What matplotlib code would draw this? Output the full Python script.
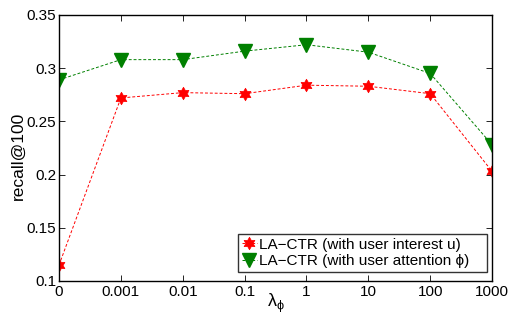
import numpy as np
import matplotlib.pyplot as plt
from matplotlib.path import Path

plt.rcParams['font.family'] = ['Liberation Sans', 'DejaVu Sans']
plt.rcParams['mathtext.fontset'] = 'custom'
plt.rcParams['mathtext.rm'] = 'Liberation Sans'

# data
lambda_labels = ['0', '0.001', '0.01', '0.1', '1', '10', '100', '1000']
recall_interest = [0.115, 0.272, 0.277, 0.276, 0.284, 0.283, 0.276, 0.203]
recall_attention = [0.289, 0.308, 0.308, 0.316, 0.322, 0.315, 0.295, 0.228]

fig = plt.figure(figsize=(5.11, 3.18), dpi=100)
ax = fig.add_axes([0.1155, 0.1164, 0.8475, 0.8366])

# hexagram marker like matlab 'h'
hexagram = Path.unit_regular_star(6, innerCircle=0.577)

x = np.arange(len(lambda_labels))
ax.plot(x, recall_interest, color='red', linestyle=(0, (3, 2)), linewidth=0.7,
        marker=hexagram, markersize=9, markeredgewidth=0.5,
        label='LA\u2212CTR (with user interest u)')
ax.plot(x, recall_attention, color='green', linestyle=(0, (3, 2)), linewidth=0.7,
        marker='v', markersize=10, markeredgecolor='green',
        label='LA\u2212CTR (with user attention \u03d5)')

ax.set_xlim(0, len(lambda_labels) - 1)
ax.set_ylim(0.1, 0.35)
ax.set_xticks(x)
ax.set_xticklabels(lambda_labels)
ax.set_yticks([0.1, 0.15, 0.2, 0.25, 0.3, 0.35])
ax.set_yticklabels(['0.1', '0.15', '0.2', '0.25', '0.3', '0.35'])
ax.tick_params(direction='in', top=True, right=True, labelsize=11, length=4, width=0.6)
ax.tick_params(axis='y', pad=2)
ax.tick_params(axis='x', pad=3)
for s in ax.spines.values():
    s.set_linewidth(1.0)

ax.set_xlabel('$\\mathrm{\\lambda}_{\\mathrm{\\phi}}$', fontsize=13)
ax.xaxis.set_label_coords(0.5, -0.042)
ax.set_ylabel('recall@100', fontsize=12.5)
ax.yaxis.set_label_coords(-0.078, 0.47)

leg = ax.legend(loc='lower left', bbox_to_anchor=(0.413, 0.034, 0.575, 0.152),
                mode='expand', fontsize=11, frameon=True, fancybox=False,
                edgecolor='black', handlelength=1.0, handletextpad=0.1,
                borderpad=0.25, labelspacing=0.15, borderaxespad=0)
leg.get_frame().set_linewidth(1.0)

fig.savefig('out.png', dpi=100)
